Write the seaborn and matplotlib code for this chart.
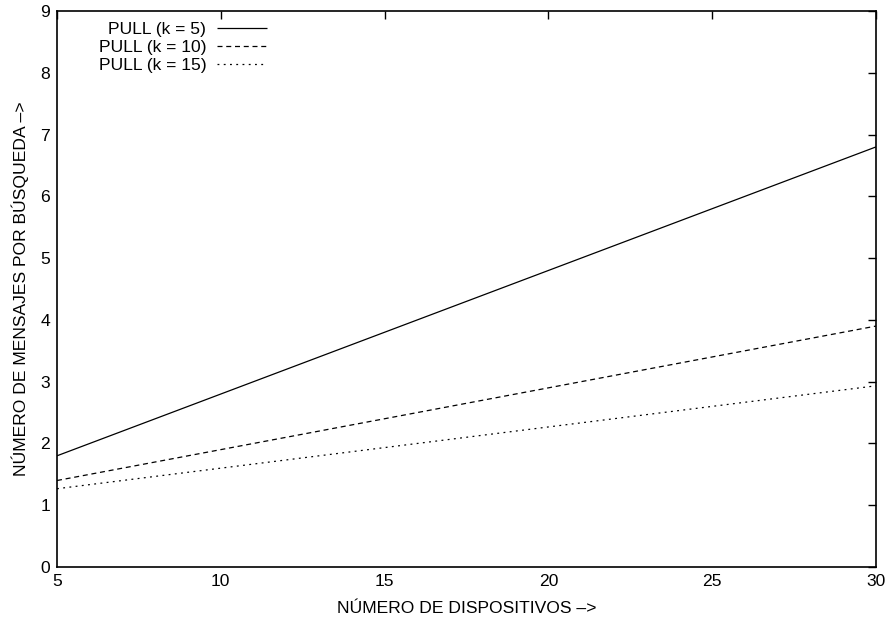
import matplotlib
matplotlib.use("Agg")
import matplotlib.pyplot as plt
import seaborn as sns
import pandas as pd

dispositivos = [5, 10, 15, 20, 25, 30]
pull_k5 = [1.8, 2.8, 3.8, 4.8, 5.8, 6.8]
pull_k10 = [1.4, 1.9, 2.4, 2.9, 3.4, 3.9]
pull_k15 = [1.267, 1.6, 1.933, 2.267, 2.6, 2.933]
series_labels = ["PULL (k = 5)", "PULL (k = 10)", "PULL (k = 15)"]
x_ticks = [5, 10, 15, 20, 25, 30]
y_ticks = [0, 1, 2, 3, 4, 5, 6, 7, 8, 9]

sns.set_theme(style="white")
plt.rcParams["font.family"] = ["Liberation Sans", "DejaVu Sans"]
plt.rcParams["text.color"] = "black"
plt.rcParams["axes.labelcolor"] = "black"

FS = 12.6

fig = plt.figure(figsize=(8.89, 6.22), dpi=100)
ax = fig.add_axes([57/889, 55/622, (876-57)/889, (567-11)/622])

styles = [(0, ()), (0, (4, 3)), (0, (1.5, 3.5))]
for vals, lab, ls in zip([pull_k5, pull_k10, pull_k15], series_labels, styles):
    df = pd.DataFrame({"x": dispositivos, "y": vals})
    sns.lineplot(data=df, x="x", y="y", ax=ax, color="black", linewidth=0.9,
                 linestyle=ls, label=lab)

ax.set_xlim(5, 30)
ax.set_ylim(0, 9)
ax.set_xticks(x_ticks)
ax.set_yticks(y_ticks)
ax.tick_params(direction="in", length=6, width=1, top=True, right=True,
               labelsize=FS, colors="black", labelcolor="black", pad=5)
ax.tick_params(axis="x", labeltop=False)
ax.tick_params(axis="y", labelright=False)
for s in ax.spines.values():
    s.set_color("black")
    s.set_linewidth(1.2)
ax.set_xlabel("NÚMERO DE DISPOSITIVOS –>", fontsize=FS, labelpad=9, color="black")
ax.set_ylabel("NÚMERO DE MENSAJES POR BÚSQUEDA –>", fontsize=FS, labelpad=8, color="black")

leg = ax.legend(loc="upper right", bbox_to_anchor=(0.256, 0.981), frameon=False,
                markerfirst=False, fontsize=FS, handlelength=2.85,
                labelspacing=0.17, handletextpad=0.6, borderaxespad=0.0,
                borderpad=0.0)
for t in leg.get_texts():
    t.set_ha("right")
    t.set_color("black")
leg._legend_box.align = "right"

fig.savefig("out.png", dpi=100)
